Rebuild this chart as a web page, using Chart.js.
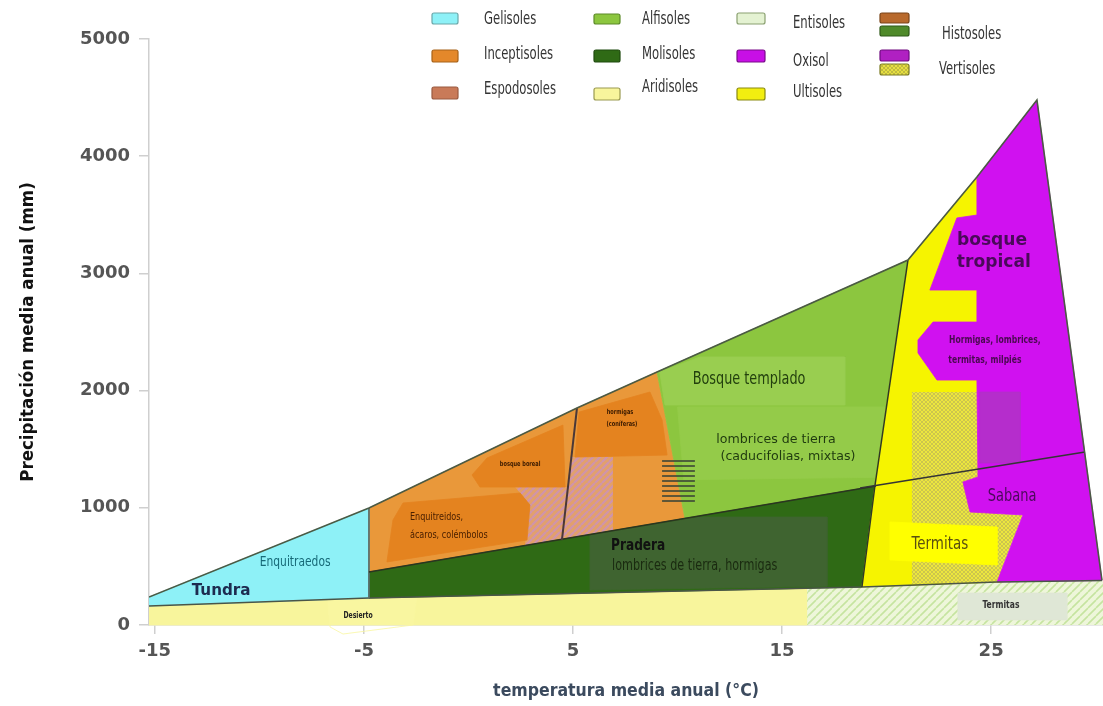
<!DOCTYPE html>
<html><head><meta charset="utf-8">
<script src="https://cdn.jsdelivr.net/npm/chart.js@4"></script>
<style>html,body{margin:0;padding:0;background:#fff}canvas{display:block}</style>
</head><body>
<canvas id="c" width="1103" height="706"></canvas>
<script>
// ---------------- DATA (temperature °C, precipitation mm) ----------------
const xTicks = [-15, -5, 5, 15, 25];
const yTicks = [0, 1000, 2000, 3000, 4000, 5000];
const xTitle = 'temperatura media anual (°C)';
const yTitle = 'Precipitación media anual (mm)';

const aridisoles   = [[-15.28,0],[-15.28,162],[-4.76,230],[16.2,314],[16.2,0]];
const entisoles    = [[16.2,0],[16.2,314],[18.82,324],[25.28,367],[30.35,380],[30.35,0]];
const desiertoArrow= [[-6.76,239],[-2.46,247],[-2.65,0],[-6.0,-77],[-6.62,-17]];
const termitasBand = [[23.41,273],[28.62,273],[28.62,43],[23.41,43]];
const gelisoles    = [[-15.28,239],[-4.76,998],[-4.76,230],[-15.28,162]];
const inceptisoles = [[-4.76,998],[5.19,1851],[9.02,2159],[10.36,904],[-4.76,452]];
const espodosoles  = [[2.23,1177],[4.76,1177],[4.90,1433],[6.91,1433],[6.91,793],[4.47,725],[2.70,683],[2.94,1024]];
const borealBlob   = [[0.89,1425],[4.52,1706],[4.62,1177],[0.55,1177],[0.17,1280]];
const enquitBlob   = [[-3.13,1041],[2.47,1126],[2.94,1024],[2.80,725],[-3.90,538],[-3.61,896]];
const hormigasBlob = [[5.29,1817],[8.68,1988],[9.26,1749],[9.50,1450],[5.10,1433]];
const alfisoles    = [[9.02,2159],[21.02,3114],[19.44,1186],[10.36,904]];
const templadoPatch= [[9.15,2159],[11.07,2287],[18.0,2287],[18.0,1877],[9.4,1877]];
const lombricesPatch=[[10.0,1860],[20.2,1860],[19.6,1260],[10.3,1240]];
const histosoles   = [[9.26,1408],[10.83,1408],[10.83,1024],[9.26,1024]];
const molisoles    = [[-4.76,452],[19.49,1186],[18.82,324],[-4.76,230]];
const praderaBox   = [[5.81,768],[11.07,921],[17.15,921],[17.15,330],[5.81,299]];
const ultisoles    = [[21.02,3114],[24.32,3822],[25.5,367],[18.82,324],[19.44,1186]];
const vertisolHatch= [[21.21,1988],[24.37,1988],[24.37,1263],[23.65,1220],[23.99,964],[26.52,939],[25.28,367],[21.21,350]];
const termitasBox  = [[20.16,879],[25.28,836],[25.28,512],[20.16,555]];
const oxisol       = [[24.32,3822],[27.19,4479],[30.30,380],[25.28,367],[26.52,939],[23.99,964],[23.65,1220],[24.37,1263],
                      [24.32,2090],[22.41,2090],[21.50,2321],[21.50,2432],[22.22,2585],[24.32,2585],[24.32,2858],
                      [22.07,2858],[23.36,3473],[24.32,3498]];
const vertisolPurple=[[24.46,1988],[26.38,1988],[26.38,1382],[24.46,1382]];

const envelopeLine = [[-15.28,239],[-4.76,998],[5.19,1851],[9.02,2159],[21.02,3114],[24.32,3822],[27.19,4479],[30.30,380]];
const bandTopLine  = [[-15.28,162],[-4.76,230],[18.82,324],[25.28,367],[30.30,380]];
const molisolTop   = [[-4.76,452],[19.49,1186]];
const extLine      = [[18.73,1169],[29.49,1476]];
const alfRightLine = [[21.02,3114],[19.44,1186],[18.82,324]];
const tundraEdge   = [[-4.76,998],[-4.76,230]];
const borealLine   = [[5.19,1851],[4.47,725]];

const labelTexts = ['Tundra','Enquitraedos','Desierto','Enquitreidos,','ácaros, colémbolos','bosque boreal','hormigas','(coníferas)',
  'Bosque templado','lombrices de tierra','(caducifolias, mixtas)','Pradera','lombrices de tierra, hormigas',
  'bosque','tropical','Hormigas, lombrices,','termitas, milpiés','Sabana','Termitas','Termitas'];
const labelX = [-11.83,-8.29,-5.28,-2.80,-2.80,2.47,7.25,7.34,13.42,14.71,15.28,6.82,6.87,25.04,25.13,25.18,24.70,26.0,22.55,25.47];
const labelY = [290,538,77,921,768,1374,1817,1715,2090,1578,1433,674,503,3285,3097,2432,2261,1092,683,171];

const legendNames = ['Gelisoles','Inceptisoles','Espodosoles','Alfisoles','Molisoles','Aridisoles','Entisoles','Oxisol','Ultisoles','Histosoles','Vertisoles'];

// ---------------- STYLES ----------------
const COND = "'DejaVu Sans Condensed','Liberation Sans Narrow',sans-serif";
const SANS = "'DejaVu Sans',sans-serif";
const labelStyles = [
  {f:'bold 16px '+SANS, c:'#1d2b4f', sx:0.95},
  {f:'14px '+COND, c:'#176a78', sx:0.85},
  {f:'bold 8px '+COND, c:'#222', sx:0.85},
  {f:'10px '+COND, c:'#4a2000', sx:0.9, a:'left'},
  {f:'10px '+COND, c:'#4a2000', sx:0.9, a:'left'},
  {f:'bold 7px '+COND, c:'#3a1a00', sx:0.8},
  {f:'bold 7px '+COND, c:'#3a1a00', sx:0.8},
  {f:'bold 7px '+COND, c:'#3a1a00', sx:0.8},
  {f:'17px '+COND, c:'#23400e', sx:0.84},
  {f:'13px '+SANS, c:'#1f3a0f', sx:0.97},
  {f:'13px '+SANS, c:'#1f3a0f', sx:0.97},
  {f:'bold 15px '+COND, c:'#111', sx:0.9, a:'left'},
  {f:'15px '+COND, c:'#1a2a10', sx:0.83, a:'left'},
  {f:'bold 18px '+SANS, c:'#4a0a5a', sx:0.95},
  {f:'bold 18px '+SANS, c:'#4a0a5a', sx:0.95},
  {f:'bold 10px '+COND, c:'#4a0a50', sx:0.85},
  {f:'bold 10px '+COND, c:'#4a0a50', sx:0.85},
  {f:'17px '+COND, c:'#4a0a5a', sx:0.85},
  {f:'17px '+COND, c:'#5a5010', sx:0.88},
  {f:'bold 10px '+COND, c:'#333', sx:0.85}
];
// legend layout: [swatchX, swatchY, swW, swH, textX, textY]
const legendLayout = [[432,13,26,11,484,20],[432,50,26,12,484,55],[432,87,26,12,484,90],
  [594,14,26,10,642,20],[594,50,26,12,642,55],[594,88,26,12,642,88],
  [737,13,28,11,793,24],[737,50,28,12,793,62],[737,88,28,12,793,93],
  [880,13,29,10,942,35],[880,50,29,11,939,70]];

function pattern(bg, fg, kind, size, lw){
  const c=document.createElement('canvas'); c.width=c.height=size; const g=c.getContext('2d');
  g.fillStyle=bg; g.fillRect(0,0,size,size); g.strokeStyle=fg; g.fillStyle=fg; g.lineWidth=lw;
  const diag=(dir)=>{ g.beginPath();
    for(let k=-1;k<=1;k++){ if(dir>0){g.moveTo(k*size,size);g.lineTo(k*size+size,0);} else {g.moveTo(k*size,0);g.lineTo(k*size+size,size);} }
    g.stroke(); };
  if(kind==='diag') diag(1);
  if(kind==='cross'){ diag(1); diag(-1); }
  if(kind==='horiz') g.fillRect(0,0,size,lw);
  return g.createPattern(c,'repeat');
}
const P = {
  espodo: pattern('#e2a06c','#cf94ac','diag',7,2.2),
  entis:  pattern('#eef6da','#c6e4a0','diag',8,1.6),
  verti:  pattern('#ece63e','#c4bc52','cross',4,0.8),
  histo:  pattern('rgba(0,0,0,0)','rgba(60,70,55,0.8)','horiz',5,2),
  legVer: pattern('#e6e040','#b8b040','cross',4,0.8)
};

const pts = a => a.map(([x,y]) => ({x, y}));
const shapes = [
  [aridisoles,'#f8f59c'],[entisoles,P.entis],[termitasBand,'#dfe7d6'],[desiertoArrow,'#f9f6a0'],
  [gelisoles,'#8ef1f7'],[inceptisoles,'#e9983a'],[espodosoles,P.espodo],[borealBlob,'#e4831f'],
  [enquitBlob,'#e4831f'],[hormigasBlob,'#e4831f'],[alfisoles,'#8cc63f'],[templadoPatch,'#99ce50'],
  [lombricesPatch,'#94cb49'],[histosoles,P.histo],
  [molisoles,'#2f6a15'],[praderaBox,'#3f6430'],[ultisoles,'#f6f400'],[vertisolHatch,P.verti],
  [termitasBox,'#ffff00'],[oxisol,'#d011f0'],[vertisolPurple,'#b52dcc']
];
const lines = [
  [bandTopLine,'#4a5548',1.5],[tundraEdge,'#5a7070',1],[molisolTop,'#2a3520',1.5],[borealLine,'#4a3838',2],
  [alfRightLine,'#2f3a25',1.5],[extLine,'#353535',1.6],[envelopeLine,'#4b5a44',1.6]
];
const datasets = [];
shapes.forEach(([d,col]) => datasets.push({
  data: pts(d.concat([d[0]])), backgroundColor: col, fill: 'shape',
  borderColor: (typeof col === 'string') ? col : 'rgba(0,0,0,0)', borderWidth: 0.8, pointRadius: 0, clip: {left:0,top:0,right:0,bottom:12}
}));
lines.forEach(([d,col,w]) => datasets.push({ data: pts(d), fill: false, borderColor: col, borderWidth: w, pointRadius: 0 }));
const N = datasets.length;
datasets.forEach((ds,i) => ds.order = N - i);

function drawText(ctx, text, x, y, st){
  ctx.save(); ctx.font = st.f; ctx.fillStyle = st.c; ctx.textAlign = st.a || 'center'; ctx.textBaseline = 'middle';
  ctx.translate(x, y); ctx.scale(st.sx || 1, 1); ctx.fillText(text, 0, 0); ctx.restore();
}
function rrect(ctx,x,y,w,h,r){ ctx.beginPath(); ctx.roundRect(x,y,w,h,r); }

const labelPlugin = {
  id:'labels',
  afterDatasetsDraw(chart){
    const ctx = chart.ctx, xs = chart.scales.x, ys = chart.scales.y;
    labelTexts.forEach((t,i) => drawText(ctx, t, xs.getPixelForValue(labelX[i]), ys.getPixelForValue(labelY[i]), labelStyles[i]));
  }
};
const legendColors = [['#8ef1f7'],['#e4882a'],['#c97a58'],['#8cc63f'],['#2f6a15'],['#f8f59c'],['#e4f2d2'],['#c80fe6'],['#f2ee10'],['#b8692c','#4f8a2a'],['#b020c2',P.legVer]];
const legendBorders = ['#6aa7aa','#a86218','#9a5a40','#5c8a28','#1f4a0e','#9a9a50','#8aa070','#7a0a8a','#8a8a10',['#7a4418','#2f5a18'],['#700a80','#7a7a20']];
const legendPlugin = {
  id:'soilLegend',
  afterDraw(chart){
    const ctx = chart.ctx;
    legendNames.forEach((name,i) => {
      const [sx,sy,w,h,tx,ty] = legendLayout[i];
      const cols = legendColors[i];
      cols.forEach((col,k) => {
        const yy = cols.length > 1 ? sy + k*(h+3) : sy;
        rrect(ctx,sx,yy,w,h,2); ctx.fillStyle = col; ctx.fill();
        ctx.lineWidth = 1.2; ctx.strokeStyle = Array.isArray(legendBorders[i]) ? legendBorders[i][k] : legendBorders[i]; ctx.stroke();
      });
      drawText(ctx, name, tx, ty, {f:'17px '+COND, c:'#333', sx:0.76, a:'left'});
    });
  }
};

new Chart(document.getElementById('c').getContext('2d'), {
  type: 'line',
  data: { datasets },
  options: {
    responsive: false, animation: false, devicePixelRatio: 1, events: [],
    layout: { padding: { top: 39, right: 0, bottom: 0, left: 0 } },
    plugins: { legend: { display: false }, tooltip: { enabled: false } },
    elements: { line: { tension: 0 }, point: { radius: 0 } },
    scales: {
      x: {
        type: 'linear', min: -15.28, max: 30.35,
        afterBuildTicks: s => { s.ticks = xTicks.map(v => ({ value: v })); },
        afterFit: s => { s.height = 81; },
        grid: { drawOnChartArea: false, drawTicks: true, tickLength: 9, color: '#cfcfcf', lineWidth: 1.5 },
        border: { display: true, color: '#cfcfcf', width: 1.5 },
        ticks: { font: { family: SANS, size: 18, weight: 'bold' }, color: '#555', padding: 7, maxRotation: 0, autoSkip: false, callback: v => String(v) },
        title: { display: true, text: xTitle, color: '#3b4a5e', font: { family: "'DejaVu Sans Condensed','Liberation Sans Narrow',sans-serif", size: 17.5, weight: 'bold' }, padding: { top: 0, bottom: 4 } }
      },
      y: {
        type: 'linear', min: 0, max: 5000,
        afterBuildTicks: s => { s.ticks = yTicks.map(v => ({ value: v })); },
        afterFit: s => { s.width = 149; },
        grid: { drawOnChartArea: false, drawTicks: true, tickLength: 10, color: '#cfcfcf', lineWidth: 1.5 },
        border: { display: true, color: '#cfcfcf', width: 1.5 },
        ticks: { font: { family: SANS, size: 18, weight: 'bold' }, color: '#555', padding: 9, callback: v => String(v) },
        title: { display: true, text: yTitle, color: '#111', font: { family: "'DejaVu Sans Condensed','Liberation Sans Narrow',sans-serif", size: 18.5, weight: 'bold' }, padding: { top: 17, bottom: 0 } }
      }
    }
  },
  plugins: [labelPlugin, legendPlugin]
});
</script>
</body></html>
